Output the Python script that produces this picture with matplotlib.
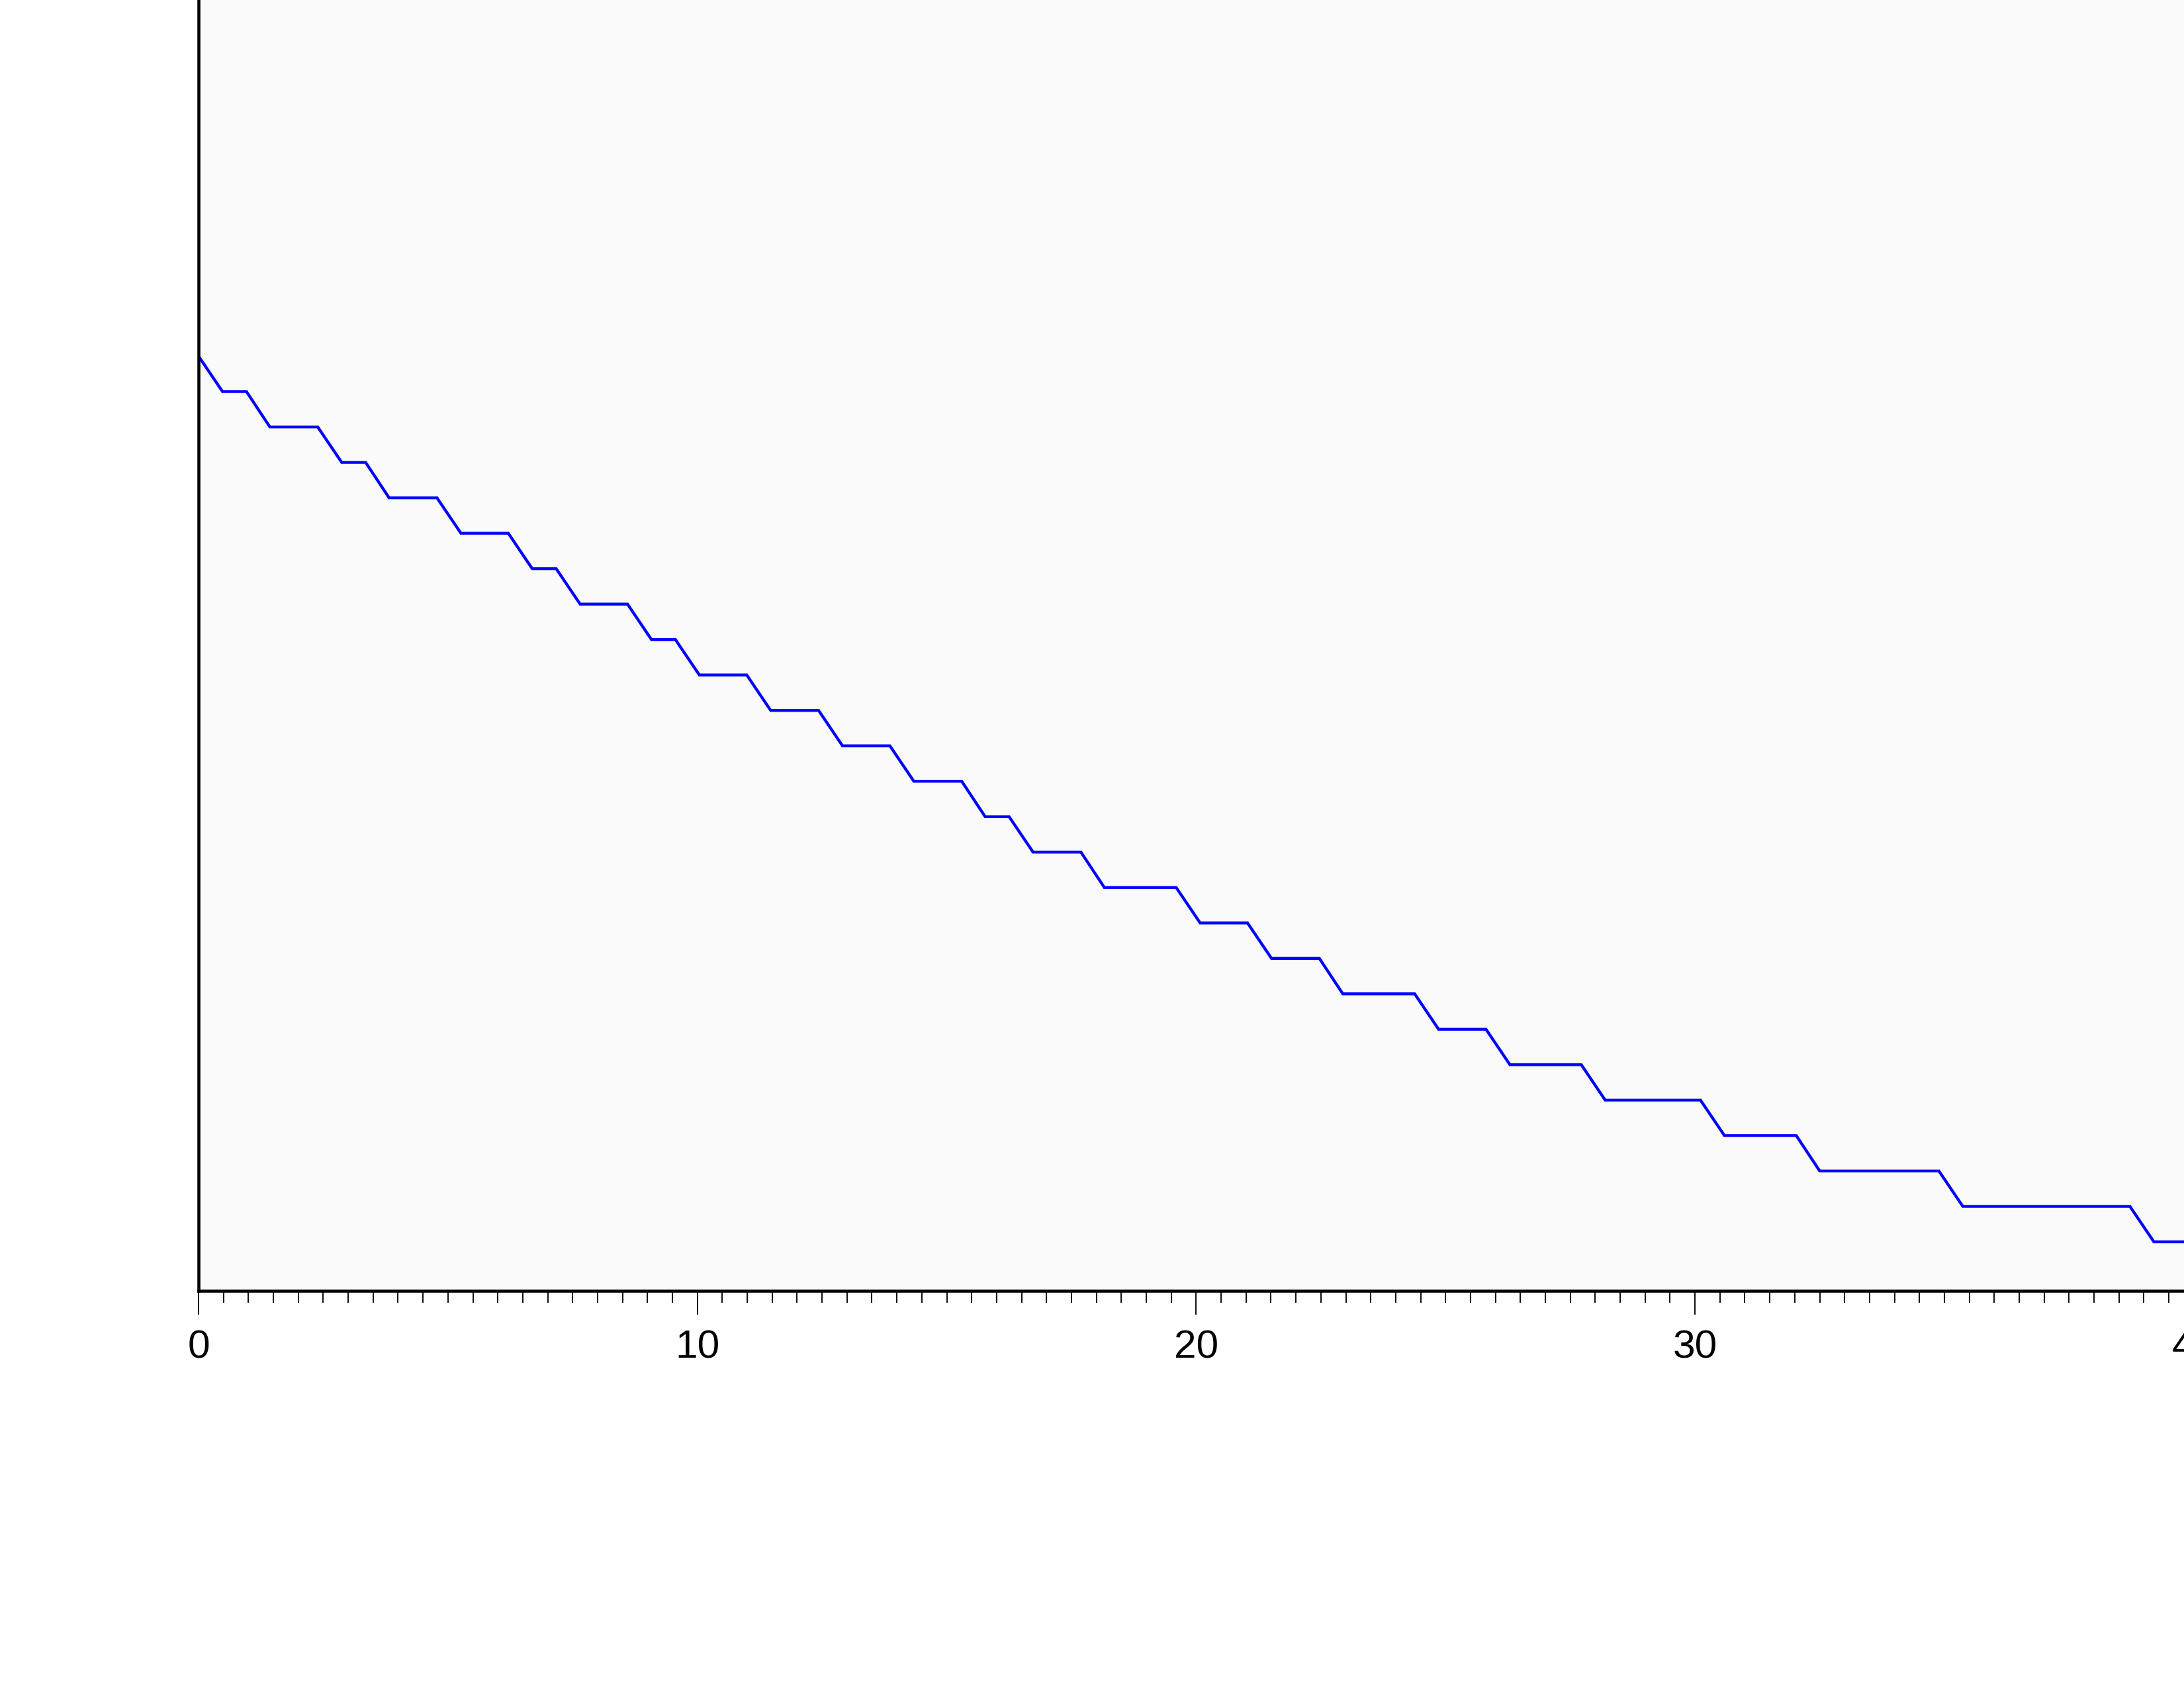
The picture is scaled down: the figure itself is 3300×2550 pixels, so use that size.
import matplotlib
matplotlib.use("Agg")
import matplotlib.pyplot as plt
from matplotlib.ticker import MultipleLocator

# corners of the stepped curve (x in axis units, y = level)
t_pts = [0, 0.48, 0.96, 1.43, 2.39, 2.87, 3.35, 3.82, 4.78, 5.26,
         6.21, 6.69, 7.17, 7.65, 8.60, 9.08, 9.56, 10.04, 10.99, 11.47,
         12.43, 12.91, 13.86, 14.34, 15.30, 15.77, 16.25, 16.73, 17.69, 18.16,
         19.60, 20.08, 21.03, 21.51, 22.47, 22.94, 24.38, 24.86, 25.81, 26.29,
         27.72, 28.20, 30.11, 30.59, 32.03, 32.50, 34.89, 35.37, 38.72, 39.20,
         41.0]
level_pts = [25, 24, 24, 23, 23, 22, 22, 21, 21, 20,
             20, 19, 19, 18, 18, 17, 17, 16, 16, 15,
             15, 14, 14, 13, 13, 12, 12, 11, 11, 10,
             10, 9, 9, 8, 8, 7, 7, 6, 6, 5,
             5, 4, 4, 3, 3, 2, 2, 1, 1, 0,
             0]

x_major = [0, 10, 20, 30, 40]
x_labels = ["0", "10", "20", "30", "40"]

plt.rcParams['font.family'] = ['Liberation Sans', 'DejaVu Sans']

W, H = 3300, 2550
fig = plt.figure(figsize=(11, 8.5), dpi=300)

# axes in pixels: left spine at x=300, bottom spine at y=1950,
# 75.37 px per x unit, 53.52 px per level; right and top run off the page
xlim = (0, 42)
ylim = (-1.383, 37)
px_x, px_y = 75.37, 53.52
ax_w = (xlim[1] - xlim[0]) * px_x
ax_h = (ylim[1] - ylim[0]) * px_y
ax = fig.add_axes([300 / W, (H - 1950) / H, ax_w / W, ax_h / H])
ax.set_facecolor('#fafafa')

ax.plot(t_pts, level_pts, color='#0000ff', linewidth=1.05,
        solid_joinstyle='miter')

ax.set_xlim(*xlim)
ax.set_ylim(*ylim)

ax.set_xticks(x_major)
ax.set_xticklabels(x_labels)
ax.xaxis.set_minor_locator(MultipleLocator(0.5))
ax.tick_params(axis='x', which='major', direction='out', length=8.6,
               width=0.45, labelsize=14.5, pad=5.5, colors='black')
ax.tick_params(axis='x', which='minor', direction='out', length=4.2,
               width=0.45)
ax.tick_params(axis='y', left=False, labelleft=False)

for side in ['left', 'bottom', 'top', 'right']:
    ax.spines[side].set_linewidth(1.1)
    ax.spines[side].set_color('black')

fig.savefig('out.png', dpi=300)
